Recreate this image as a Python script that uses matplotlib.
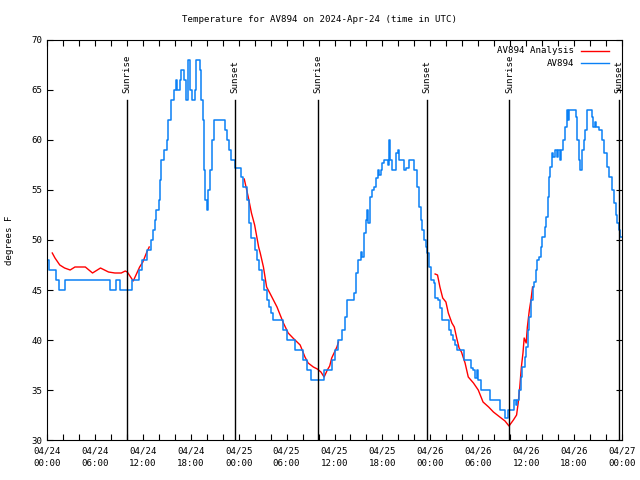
import numpy as np
import pandas as pd
import matplotlib
matplotlib.use("Agg")
import matplotlib.pyplot as plt
from matplotlib.lines import Line2D

plt.rcParams['font.family'] = ['DejaVu Sans Mono']

base = pd.Timestamp("2024-04-24 00:00")

# AV894 observed temperature (hours since 04/24 00:00 UTC, deg F)
obs_hours = [0.0, 0.3, 1.1, 1.5, 2.2, 7.9, 8.6, 9.1, 10.7, 11.5, 11.9, 12.5, 13.0, 13.3,
             13.5, 13.7, 14.0, 14.1, 14.3, 14.6, 15.0, 15.2, 15.5, 15.9, 16.1, 16.3, 16.6,
             16.8, 17.1, 17.4, 17.6, 17.9, 18.1, 18.5, 18.7, 19.1, 19.3, 19.5, 19.6, 19.8,
             20.0, 20.2, 20.4, 20.6, 20.9, 22.3, 22.5, 22.8, 23.1, 23.5, 24.3, 24.6, 25.0,
             25.3, 25.6, 26.0, 26.3, 26.6, 26.9, 27.2, 27.5, 27.8, 28.1, 28.3, 29.5, 30.0,
             31.0, 32.0, 32.6, 33.0, 34.7, 35.7, 36.1, 36.5, 37.0, 37.3, 37.6, 38.4, 38.7,
             39.0, 39.3, 39.5, 39.7, 39.9, 40.1, 40.2, 40.4, 40.7, 41.0, 41.2, 41.4, 41.6,
             41.8, 42.0, 42.2, 42.7, 42.8, 42.9, 43.2, 43.7, 43.9, 44.1, 44.7, 45.0, 45.3,
             46.0, 46.3, 46.6, 46.8, 47.0, 47.2, 47.4, 47.6, 47.8, 48.1, 48.4, 48.6, 48.9,
             49.2, 49.5, 50.3, 50.6, 50.8, 51.1, 51.3, 52.2, 53.1, 53.3, 53.6, 53.8, 54.0,
             54.3, 55.5, 56.7, 57.4, 57.7, 58.5, 58.7, 58.8, 59.1, 59.3, 59.5, 59.8, 60.0,
             60.2, 60.4, 60.6, 60.8, 61.0, 61.2, 61.4, 61.6, 61.8, 62.0, 62.3, 62.5, 62.7,
             62.9, 63.0, 63.2, 63.4, 63.6, 63.8, 64.0, 64.2, 64.4, 64.6, 64.9, 65.1, 65.3,
             65.4, 66.2, 66.4, 66.6, 66.8, 67.0, 67.2, 67.4, 67.6, 68.2, 68.4, 68.6, 68.8,
             69.1, 69.5, 69.8, 70.1, 70.4, 70.7, 71.0, 71.2, 71.4, 71.6, 71.8, 72.0]
obs_temps = [48, 47, 46, 45, 46, 45, 46, 45, 46, 47, 48, 49, 50, 51,
             52, 53, 54, 56, 58, 59, 60, 62, 64, 65, 66, 65, 66,
             67, 66, 64, 68, 65, 64, 65, 68, 67, 64, 62, 57, 54,
             53, 55, 57, 60, 62, 61, 60, 59, 58, 57.2, 56.3, 55.3, 54,
             51.7, 50.2, 49, 48, 47, 46, 45, 44, 43.3, 42.7, 42, 41, 40,
             39, 38, 37, 36, 37, 38, 39, 40, 41, 42.3, 44, 44.7, 46.7,
             48, 48.8, 48.3, 50.7, 52, 53, 51.7, 54.3, 55, 55.3, 56.2, 57, 56.5,
             57, 57.7, 58, 57.5, 60, 58, 57, 58.7, 59, 58, 57, 57.2, 58,
             57, 55.3, 53.3, 52, 51, 50, 49.3, 48.7, 47.3, 46, 45.7, 44.2, 44,
             43.2, 42, 41, 40.5, 40, 39.5, 39, 38, 37.2, 37, 36.2, 37, 36,
             35, 34, 33, 32.2, 33, 34, 33.5, 34, 35, 36.3, 37.3, 38.3, 39.3,
             41, 42.3, 44, 45.3, 45.8, 47, 48, 48.3, 49.3, 50.3, 51.3, 52.3, 54.3,
             56.3, 57.3, 58.7, 58.3, 59, 58.3, 59, 58, 59, 60, 61.3, 63, 62,
             63, 62.3, 60, 58, 57, 59, 60, 61, 63, 62.3, 61.3, 61.8, 61.3,
             61, 60, 58.7, 57.3, 56.3, 55, 53.7, 52.5, 51.7, 51, 50.3, 50.3]

# AV894 Analysis (nan separates the three runs)
ana_hours = [0.66, 1.0, 1.6, 2.2, 2.9, 3.5, 4.8, 5.7, 6.7, 7.7, 8.5, 9.3, 9.8, 10.05,
             10.8, 11.6, 12.0, 12.5, 12.8, np.nan,
             24.7, 25.2, 25.6, 26.0, 26.5, 26.7, 27.1, 27.5, 27.9, 28.8, 29.6, 30.2,
             30.8, 31.7, 32.3, 32.7, 33.35, 33.85, 34.3, 34.7, 35.1, 35.4, 35.65, 36.3,
             36.5, np.nan,
             48.6, 48.9, 49.2, 49.55, 49.95, 50.25, 50.7, 51.0, 51.3, 51.6, 51.9, 52.35,
             52.75, 53.4, 54.0, 54.6, 55.3, 55.9, 56.7, 57.35, 57.85, 58.4, 58.8, 59.0,
             59.2, 59.4, 59.6, 59.75, 60.0, 60.15, 60.4, 60.6, 60.8]
ana_temps = [48.7, 48.2, 47.5, 47.2, 47.0, 47.3, 47.3, 46.7, 47.2, 46.8, 46.7, 46.7, 46.9, 46.8,
             45.9, 47.3, 47.8, 48.8, 49.3, np.nan,
             56.1, 54.3, 52.7, 51.5, 49.3, 48.7, 47.3, 45.3, 44.7, 43.3, 41.7, 40.7,
             40.2, 39.5, 38.3, 37.7, 37.3, 37.1, 36.8, 36.3, 37.0, 37.4, 38.2, 39.3,
             39.8, np.nan,
             46.6, 46.5, 45.3, 44.2, 43.8, 42.7, 41.7, 41.3, 40.2, 39.2, 38.8, 37.7,
             36.3, 35.7, 35.0, 33.8, 33.3, 32.8, 32.3, 31.9, 31.4, 32.0, 32.5, 33.7,
             35.3, 37.3, 38.7, 40.2, 39.7, 41.3, 43.0, 44.0, 45.3]

sun_hours = [10.05, 23.57, 33.97, 47.62, 57.9, 71.66]
sun_names = ["Sunrise", "Sunset", "Sunrise", "Sunset", "Sunrise", "Sunset"]

RED = "#ff0000"
BLUE = "#0a80f5"
FS = 6.6


def to_time(hours):
    return base + pd.to_timedelta(np.asarray(hours, dtype=float), unit="h")


fig = plt.figure(figsize=(6.4, 4.8), dpi=100)
ax = fig.add_axes([47 / 640, 40 / 480, 575 / 640, 400 / 480])

ax.plot(to_time(ana_hours), ana_temps, color=RED, lw=1.0)
ax.plot(to_time(obs_hours), obs_temps, color=BLUE, lw=1.1, drawstyle="steps-post")

for h, name in zip(sun_hours, sun_names):
    t = to_time([h])[0]
    ax.plot([t, t], [30, 64], color="black", lw=1.0)
    ax.text(t, 64.7, name, rotation=90, ha="center", va="bottom", fontsize=FS)

ax.set_xlim(base, base + pd.Timedelta(hours=72))
ax.set_ylim(30, 70)

major = to_time(np.arange(0, 73, 6))
ax.set_xticks(major)
ax.set_xticklabels([t.strftime("%m/%d\n%H:%M") for t in major], fontsize=FS, linespacing=1.45)
ax.set_xticks(to_time(np.arange(0, 73, 2)), minor=True)
ax.set_yticks(np.arange(30, 71, 5))
ax.set_yticklabels([str(v) for v in range(30, 71, 5)], fontsize=FS)
ax.tick_params(which="both", direction="in", top=True, right=True, length=4, width=0.8)
ax.tick_params(axis="x", pad=5)
for s in ax.spines.values():
    s.set_linewidth(0.8)

# legend drawn gnuplot-style: right-aligned text, line sample to its right
for row, (label, col) in enumerate([("AV894 Analysis", RED), ("AV894", BLUE)]):
    y = 1 - (50.7 + 12.6 * row) / 480
    fig.text(574 / 640, y, label, ha="right", va="center", fontsize=FS)
    fig.add_artist(Line2D([581 / 640, 609 / 640], [y, y], color=col, lw=1.0,
                          transform=fig.transFigure))

fig.text(320 / 640, 1 - 19 / 480, "Temperature for AV894 on 2024-Apr-24 (time in UTC)",
         ha="center", va="center", fontsize=FS)
fig.text(10 / 640, 0.5, "degrees F", rotation=90, ha="center", va="center", fontsize=FS)

fig.savefig("out.png", dpi=100)
